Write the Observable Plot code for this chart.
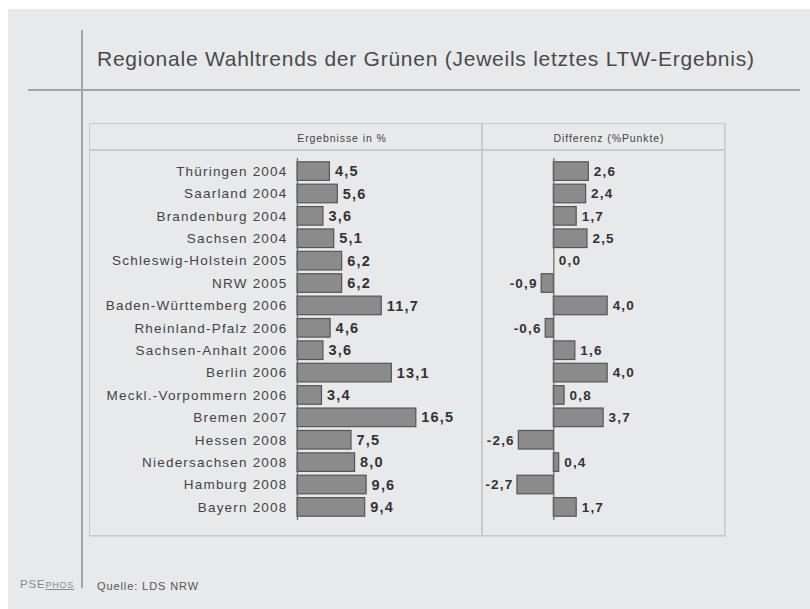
<!DOCTYPE html>
<html>
<head>
<meta charset="utf-8">
<script src="https://cdn.jsdelivr.net/npm/d3@7"></script>
<script src="https://cdn.jsdelivr.net/npm/@observablehq/plot@0.6"></script>
<style>
  html, body { margin: 0; padding: 0; background: #ffffff; }
  body { width: 810px; height: 609px; position: relative; overflow: hidden; font-family: "Liberation Sans", Arial, sans-serif; }
  #bg { position: absolute; left: 8px; top: 9px; right: 0; bottom: 0; background: #e8e9eb; }
  .abs { position: absolute; }
  #vline { left: 81px; top: 30px; width: 2px; height: 558px; background: #a3a4a6; }
  #hline { left: 28px; top: 89px; width: 772px; height: 2px; background: #a3a4a6; }
  #title { left: 97px; top: 47px; font-size: 21px; color: #4a4a4a; white-space: nowrap; letter-spacing: 0.75px; }
  #panel { left: 89px; top: 123px; width: 634px; height: 411px; border: 1.5px solid #c9cacc; box-shadow: 1px 1px 0 #d6d7d9; }
  #divider { left: 481px; top: 123px; width: 1.5px; height: 412px; background: #c9cacc; }
  #hdrline { left: 89px; top: 149px; width: 636px; height: 1.5px; background: #c9cacc; }
  .hdr { top: 132px; font-size: 10.5px; color: #444; white-space: nowrap; transform: translateX(-50%); letter-spacing: 0.9px; }
  #h1 { left: 342px; }
  #h2 { left: 609px; }
  #left { left: 90px; top: 150px; }
  #right { left: 482px; top: 150px; }
  .chart svg text { letter-spacing: 1.2px; }
  #quelle { left: 97px; top: 580px; font-size: 11px; color: #555; letter-spacing: 0.9px; }
  #logo { left: 20px; top: 578px; font-size: 11.5px; color: #8a8a8a; letter-spacing: 0.8px; }
  #logo span { font-size: 9px; text-decoration: underline; }
</style>
</head>
<body>
<div id="bg"></div>
<div id="vline" class="abs"></div>
<div id="hline" class="abs"></div>
<div id="title" class="abs">Regionale Wahltrends der Grünen (Jeweils letztes LTW-Ergebnis)</div>
<div id="panel" class="abs"></div>
<div id="divider" class="abs"></div>
<div id="hdrline" class="abs"></div>
<div id="h1" class="abs hdr">Ergebnisse in %</div>
<div id="h2" class="abs hdr">Differenz (%Punkte)</div>
<div id="left" class="abs chart"></div>
<div id="right" class="abs chart"></div>
<div id="logo" class="abs">PSE<span>PHOS</span></div>
<div id="quelle" class="abs">Quelle: LDS NRW</div>
<script>
const regions = [
  "Thüringen 2004", "Saarland 2004", "Brandenburg 2004", "Sachsen 2004",
  "Schleswig-Holstein 2005", "NRW 2005", "Baden-Württemberg 2006", "Rheinland-Pfalz 2006",
  "Sachsen-Anhalt 2006", "Berlin 2006", "Meckl.-Vorpommern 2006", "Bremen 2007",
  "Hessen 2008", "Niedersachsen 2008", "Hamburg 2008", "Bayern 2008"
];
const ergebnisse = [4.5, 5.6, 3.6, 5.1, 6.2, 6.2, 11.7, 4.6, 3.6, 13.1, 3.4, 16.5, 7.5, 8.0, 9.6, 9.4];
const differenz = [2.6, 2.4, 1.7, 2.5, 0.0, -0.9, 4.0, -0.6, 1.6, 4.0, 0.8, 3.7, -2.6, 0.4, -2.7, 1.7];

const fmt = v => d3.format(".1f")(v).replace(".", ",").replace("−", "-");
const leftData = regions.map((r, i) => ({region: r, value: ergebnisse[i]}));
const rightData = regions.map((r, i) => ({region: r, value: differenz[i]}));

const common = {
  height: 385,
  marginTop: 8,
  marginBottom: 15,
  style: {background: "transparent", fontFamily: "'Liberation Sans', Arial, sans-serif", fontSize: "13.5px", color: "#444444", overflow: "visible"}
};
const barStyle = {fill: "#8b8b8b", stroke: "#555555", strokeWidth: 1.2};

const left = Plot.plot({
  ...common,
  width: 392,
  marginLeft: 207,
  marginRight: 41,
  x: {domain: [0, 20], axis: null},
  y: {domain: regions, padding: 0.17, round: false, label: null, tickSize: 0, tickPadding: 10},
  marks: [
    Plot.barX(leftData, {x: "value", y: "region", ...barStyle}),
    Plot.ruleX([0], {stroke: "#666", strokeWidth: 1.2}),
    Plot.text(leftData, {x: "value", y: "region", text: d => fmt(d.value), textAnchor: "start", dx: 5, fontWeight: "bold", fontSize: 14.5, fill: "#333"})
  ]
});
document.getElementById("left").appendChild(left);

const right = Plot.plot({
  ...common,
  width: 243,
  marginLeft: 4,
  marginRight: 64,
  x: {domain: [-5, 8], axis: null},
  y: {domain: regions, padding: 0.17, round: false, axis: null},
  marks: [
    Plot.barX(rightData.filter(d => d.value !== 0), {x: "value", y: "region", ...barStyle}),
    Plot.ruleX([0], {stroke: "#666", strokeWidth: 1.2}),
    Plot.text(rightData.filter(d => d.value >= 0), {x: "value", y: "region", text: d => fmt(d.value), textAnchor: "start", dx: 5, fontWeight: "bold", fontSize: 13.5, fill: "#333"}),
    Plot.text(rightData.filter(d => d.value < 0), {x: "value", y: "region", text: d => fmt(d.value), textAnchor: "end", dx: -4, fontWeight: "bold", fontSize: 13.5, fill: "#333"})
  ]
});
document.getElementById("right").appendChild(right);
</script>
</body>
</html>
